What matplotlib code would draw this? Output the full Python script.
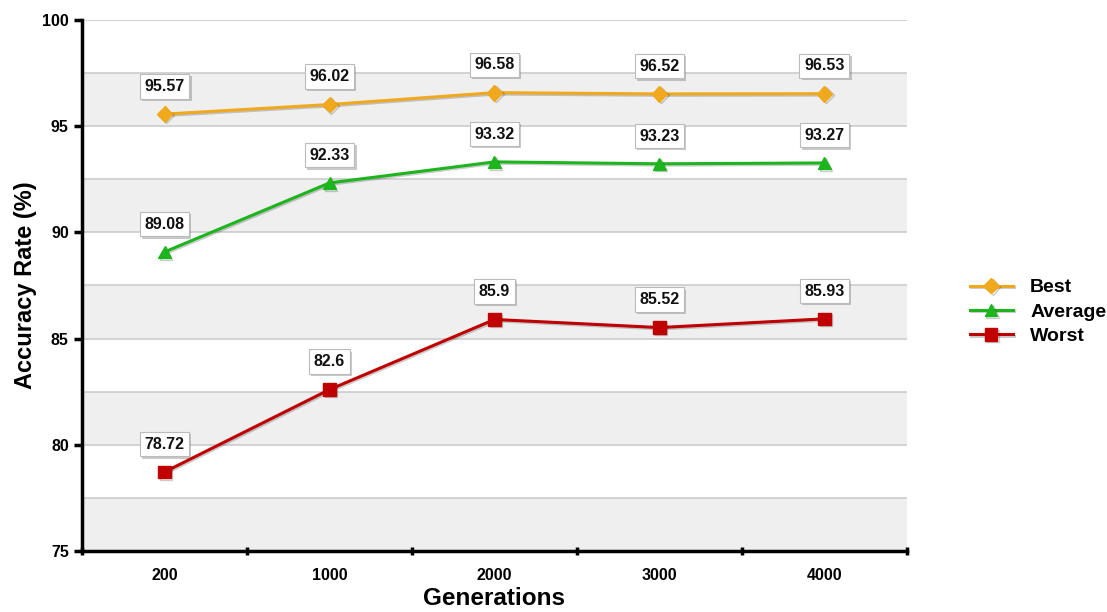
import numpy as np
import matplotlib.pyplot as plt
import matplotlib.patheffects as pe

plt.rcParams["font.family"] = ["Liberation Sans", "DejaVu Sans"]

generations = ["200", "1000", "2000", "3000", "4000"]
best = [95.57, 96.02, 96.58, 96.52, 96.53]
average = [89.08, 92.33, 93.32, 93.23, 93.27]
worst = [78.72, 82.6, 85.9, 85.52, 85.93]

series = [("Best", best, "#f0a81c", "D", 8),
          ("Average", average, "#1db51d", "^", 9),
          ("Worst", worst, "#c00000", "s", 9)]

fig = plt.figure(figsize=(11.07, 6.12), dpi=100)
ax = fig.add_axes([0.0741, 0.0997, 0.7452, 0.8676])

x = np.arange(len(generations))
ax.set_xlim(-0.5, len(generations) - 0.5)
ax.set_ylim(75, 100)

# alternating bands and grid
for lo in np.arange(75, 100, 5):
    ax.axhspan(lo, lo + 2.5, color="#efefef", zorder=0, lw=0)
for g in np.arange(77.5, 100.1, 2.5):
    ax.axhline(g, color="#cccccc", lw=1.2, zorder=1)

shadow = [pe.SimpleLineShadow(offset=(1, -1), alpha=0.2), pe.Normal()]
for name, vals, col, mk, ms in series:
    ax.plot(x, vals, color=col, lw=2.2, marker=mk, ms=ms, label=name,
            zorder=3, path_effects=shadow)
    for xi, v in zip(x, vals):
        ax.annotate("{:g}".format(v), (xi, v), xytext=(0, 20),
                    textcoords="offset points", ha="center", va="center",
                    fontsize=11.5, fontweight="bold", color="#111111",
                    zorder=4,
                    bbox=dict(boxstyle="square,pad=0.3", fc="white",
                              ec="#bbbbbb", lw=0.8,
                              path_effects=[pe.SimplePatchShadow(
                                  offset=(1.5, -1.5), alpha=0.3),
                                  pe.Normal()]))

ax.set_yticks([75, 80, 85, 90, 95, 100])
ax.set_xticks(x)
ax.set_xticklabels(generations)
ax.set_xticks(np.arange(-0.5, len(generations)), minor=True)
ax.tick_params(axis="x", which="major", length=0, pad=12, labelsize=11.5)
ax.tick_params(axis="x", which="minor", length=6, width=2.5, direction="inout")
ax.tick_params(axis="y", length=6, width=2.5, labelsize=11.5)
for lab in ax.get_xticklabels() + ax.get_yticklabels():
    lab.set_fontweight("bold")

for s in ["top", "right"]:
    ax.spines[s].set_visible(False)
for s in ["left", "bottom"]:
    ax.spines[s].set_linewidth(2.5)

ax.set_ylabel("Accuracy Rate (%)", fontsize=17, fontweight="bold")
ax.set_xlabel("Generations", fontsize=17.5, fontweight="bold", labelpad=3)

leg = ax.legend(loc="center left", bbox_to_anchor=(1.055, 0.45), frameon=False,
                prop=dict(weight="bold", size=14), handlelength=2.2,
                labelspacing=0.35, handletextpad=0.9)

fig.savefig("out.png", dpi=100)
